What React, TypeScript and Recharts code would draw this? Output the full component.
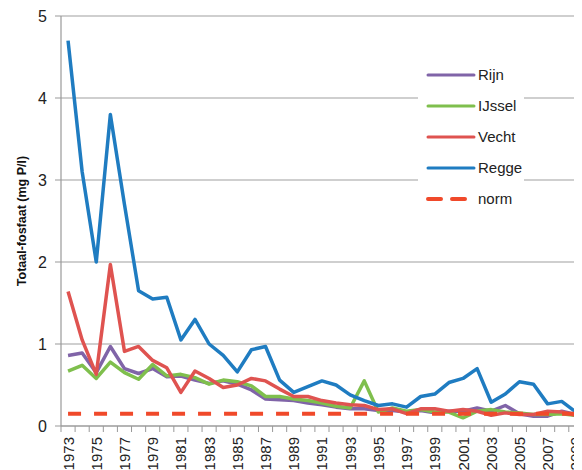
import React from "react";
import { LineChart, Line, XAxis, YAxis, CartesianGrid, Legend } from "recharts";

const years = [
  1973, 1974, 1975, 1976, 1977, 1978, 1979, 1980, 1981, 1982, 1983, 1984, 1985, 1986, 1987, 1988, 1989, 1990, 1991,
  1992, 1993, 1994, 1995, 1996, 1997, 1998, 1999, 2000, 2001, 2002, 2003, 2004, 2005, 2006, 2007, 2008, 2009, 2010,
];

const rijn = [
  0.86, 0.89, 0.65, 0.97, 0.7, 0.64, 0.7, 0.6, 0.61, 0.56, 0.52, 0.55, 0.51, 0.44, 0.33, 0.32, 0.31, 0.28, 0.26,
  0.23, 0.21, 0.21, 0.19, 0.19, 0.17, 0.19, 0.16, 0.18, 0.18, 0.22, 0.18, 0.25, 0.15, 0.12, 0.12, 0.18, 0.14, 0.18,
];
const ijssel = [
  0.67, 0.74, 0.58, 0.78, 0.65, 0.57, 0.75, 0.61, 0.63, 0.59, 0.51, 0.56, 0.54, 0.49, 0.36, 0.36, 0.33, 0.31, 0.28,
  0.24, 0.22, 0.55, 0.17, 0.22, 0.18, 0.2, 0.17, 0.17, 0.1, 0.18, 0.2, 0.17, 0.16, 0.14, 0.14, 0.15, 0.13, 0.2,
];
const vecht = [
  1.64, 1.05, 0.63, 1.97, 0.91, 0.97, 0.8, 0.71, 0.41, 0.67, 0.58, 0.47, 0.5, 0.58, 0.55, 0.45, 0.36, 0.36, 0.31,
  0.28, 0.26, 0.25, 0.2, 0.21, 0.15, 0.21, 0.21, 0.18, 0.2, 0.18, 0.13, 0.16, 0.14, 0.14, 0.18, 0.17, 0.13, 0.17,
];
const regge = [
  4.7, 3.1, 2.0, 3.8, 2.7, 1.65, 1.55, 1.57, 1.05, 1.3, 1.0, 0.86, 0.66, 0.93, 0.97, 0.56, 0.41, 0.48, 0.55, 0.5,
  0.38, 0.31, 0.25, 0.27, 0.23, 0.36, 0.39, 0.53, 0.58, 0.7, 0.29, 0.39, 0.54, 0.51, 0.27, 0.3, 0.17, 0.38,
];
const norm = 0.15;

const yTicks = [0, 1, 2, 3, 4, 5];

const data = years.map((y, i) => ({
  year: y,
  Rijn: rijn[i],
  IJssel: ijssel[i],
  Vecht: vecht[i],
  Regge: regge[i],
  norm: norm,
}));

const FONT = "'Liberation Sans', Arial, sans-serif";
const CHART_W = 601;
const CHART_H = 470;
const TOP = 16;
const X_AXIS_H = 44;
const PLOT_LEFT = 61;
const PLOT_RIGHT_MARGIN = 4;
const band = (CHART_W - PLOT_LEFT - PLOT_RIGHT_MARGIN) / years.length;

const series = [
  { key: "Rijn", color: "#8064a8", dash: undefined as string | undefined },
  { key: "IJssel", color: "#7fbf4d", dash: undefined },
  { key: "Vecht", color: "#df5350", dash: undefined },
  { key: "Regge", color: "#1f7cc1", dash: undefined },
  { key: "norm", color: "#f0492a", dash: "13 13" },
];

function YearTick(props: any) {
  const { x, y, payload, index } = props;
  const left = x - band / 2;
  return (
    <g>
      <line x1={left} y1={y - 8} x2={left} y2={y - 2} stroke="#999" strokeWidth={1} />
      {index === years.length - 1 && (
        <line x1={left + band} y1={y - 8} x2={left + band} y2={y - 2} stroke="#999" strokeWidth={1} />
      )}
      {index % 2 === 0 && (
        <text
          x={x}
          y={y + 3}
          transform={`rotate(-90, ${x}, ${y + 3})`}
          textAnchor="end"
          dominantBaseline="central"
          fontSize={15}
          fontFamily={FONT}
          fill="#222"
        >
          {payload.value}
        </text>
      )}
    </g>
  );
}

function YLabel() {
  const cx = 22;
  const cy = TOP + (CHART_H - TOP - X_AXIS_H) / 2;
  return (
    <text
      x={cx}
      y={cy}
      transform={`rotate(-90, ${cx}, ${cy})`}
      textAnchor="middle"
      dominantBaseline="central"
      fontSize={12.5}
      fontWeight="bold"
      fontFamily={FONT}
      fill="#111"
    >
      Totaal-fosfaat (mg P/l)
    </text>
  );
}

function LegendBox() {
  return (
    <div
      style={{
        background: "#fff",
        width: 106,
        padding: "1px 0 2px 0",
        fontFamily: FONT,
        fontSize: 15,
        color: "#222",
      }}
    >
      {series.map((s) => (
        <div key={s.key} style={{ display: "flex", alignItems: "center", height: 31 }}>
          <svg width={60} height={10} style={{ flex: "none" }}>
            <line
              x1={10}
              y1={5}
              x2={s.dash ? 50 : 56}
              y2={5}
              stroke={s.color}
              strokeWidth={s.dash ? 4 : 3}
              strokeDasharray={s.dash ? "13 11" : undefined}
              strokeLinecap="round"
            />
          </svg>
          <span>{s.key}</span>
        </div>
      ))}
    </div>
  );
}

export default function App() {
  return (
    <div style={{ margin: "-8px 0 0 -8px", width: 582, height: 470, overflow: "hidden", position: "relative" }}>
      <LineChart
        width={CHART_W}
        height={CHART_H}
        data={data}
        margin={{ top: TOP, right: PLOT_RIGHT_MARGIN, left: 0, bottom: 0 }}
      >
        <CartesianGrid vertical={false} stroke="#a0a0a0" strokeWidth={1.2} />
        <XAxis
          dataKey="year"
          interval={0}
          height={X_AXIS_H}
          padding={{ left: band / 2, right: band / 2 }}
          tickLine={false}
          axisLine={{ stroke: "#999", strokeWidth: 1.2 }}
          tick={<YearTick />}
        />
        <YAxis
          domain={[0, 5]}
          ticks={yTicks}
          width={PLOT_LEFT}
          tickSize={6}
          tickMargin={8}
          axisLine={{ stroke: "#999", strokeWidth: 1.2 }}
          tickLine={{ stroke: "#999" }}
          tick={{ fontSize: 16, fontFamily: FONT, fill: "#222" }}
          label={<YLabel />}
        />
        <Legend
          layout="vertical"
          verticalAlign="middle"
          align="center"
          content={<LegendBox />}
          wrapperStyle={{ left: 418, top: 58, width: 106, height: 160 }}
        />
        {series.map((s) => (
          <Line
            key={s.key}
            dataKey={s.key}
            stroke={s.color}
            strokeWidth={s.dash ? 4 : 3.5}
            strokeDasharray={s.dash}
            dot={false}
            activeDot={false}
            isAnimationActive={false}
            strokeLinejoin="round"
          />
        ))}
      </LineChart>
    </div>
  );
}
